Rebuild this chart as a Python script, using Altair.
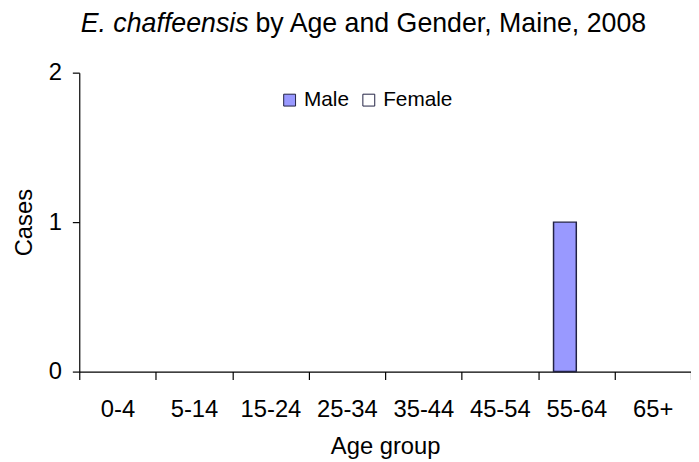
import altair as alt
import pandas as pd

age_groups = ["0-4", "5-14", "15-24", "25-34", "35-44", "45-54", "55-64", "65+"]
male_cases = [0, 0, 0, 0, 0, 0, 1, 0]
female_cases = [0, 0, 0, 0, 0, 0, 0, 0]
genders = ["Male", "Female"]
gender_colors = ["#9999FF", "#FFFFFF"]
y_ticks = [0, 1, 2]
title_italic = "E. chaffeensis"
title_rest = "by Age and Gender, Maine, 2008"

rows = []
for g, vals in zip(genders, [male_cases, female_cases]):
    for a, v in zip(age_groups, vals):
        rows.append({"age": a, "gender": g, "cases": v})
df = pd.DataFrame(rows)

FONT = "Liberation Sans"

bars = alt.Chart(df).transform_filter(alt.datum.cases > 0).mark_bar(
    stroke="#222244", strokeWidth=1.5
).encode(
    x=alt.X(
        "age:N",
        sort=age_groups,
        scale=alt.Scale(domain=age_groups, paddingInner=0, paddingOuter=0),
        axis=alt.Axis(
            title="Age group",
            labelAngle=0,
            tickBand="extent",
            tickSize=8,
            labelPadding=18,
            labelFontSize=24,
            titleFontSize=24,
            titleFontWeight="normal",
            titlePadding=14,
        ),
    ),
    xOffset=alt.XOffset(
        "gender:N",
        scale=alt.Scale(domain=genders, paddingInner=0, paddingOuter=0.68),
    ),
    y=alt.Y(
        "cases:Q",
        scale=alt.Scale(domain=[0, 2], nice=False, zero=True),
        axis=alt.Axis(
            title="Cases",
            values=y_ticks,
            labelExpr="format(datum.value, 'd')",
            labelOverlap=False,
            labelFlush=False,
            tickSize=7,
            labelPadding=11,
            labelFontSize=24,
            titleFontSize=24,
            titleFontWeight="normal",
            titlePadding=12,
            grid=False,
        ),
    ),
    color=alt.Color(
        "gender:N",
        scale=alt.Scale(domain=genders, range=gender_colors),
        legend=alt.Legend(
            title=None,
            orient="none",
            legendX=202,
            legendY=17,
            direction="horizontal",
            symbolType="square",
            symbolSize=144,
            symbolStrokeColor="#222244",
            symbolStrokeWidth=1,
            labelFontSize=21,
            labelOffset=4,
            columnPadding=9,
        ),
    ),
)

tdf1 = pd.DataFrame({"t": [title_italic]})
tdf2 = pd.DataFrame({"t": [title_rest]})

t1 = alt.Chart(tdf1).mark_text(
    align="right", baseline="alphabetic", fontSize=27, fontStyle="italic", font=FONT, color="#000000"
).encode(text="t:N", x=alt.value(171), y=alt.value(-41))

t2 = alt.Chart(tdf2).mark_text(
    align="left", baseline="alphabetic", fontSize=27, font=FONT, color="#000000"
).encode(text="t:N", x=alt.value(178), y=alt.value(-41))

chart = alt.layer(bars, t1, t2).properties(
    width=618,
    height=302,
    autosize=alt.AutoSizeParams(type="none"),
    padding={"left": 72, "top": 63, "right": 0, "bottom": 88},
).configure(font=FONT, background="white").configure_view(strokeWidth=0).configure_axis(
    domainColor="#000000",
    tickColor="#000000",
    labelColor="#000000",
    titleColor="#000000",
    labelFont=FONT,
    titleFont=FONT,
    domainWidth=1.2,
    tickWidth=1.2,
).configure_legend(labelFont=FONT, labelColor="#000000")

chart.save("out.html", embed_options={"renderer": "svg", "actions": False})
